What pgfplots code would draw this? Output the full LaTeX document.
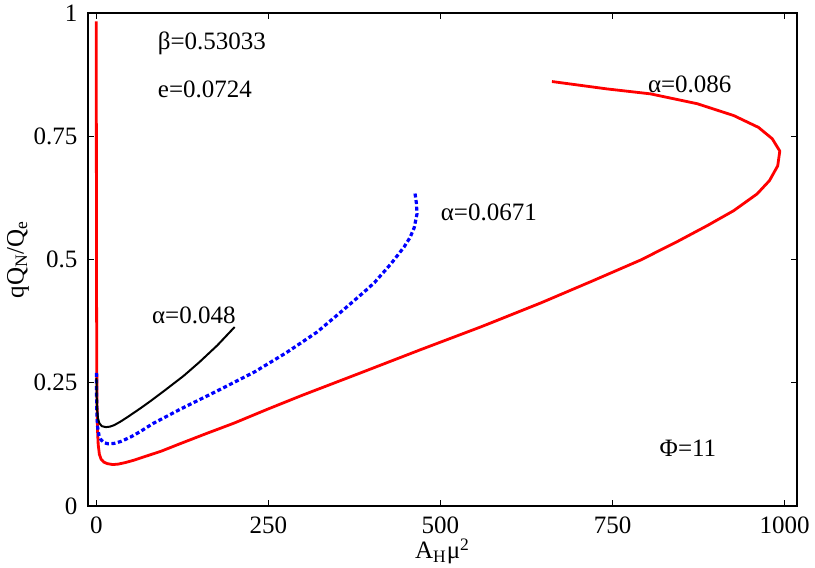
\documentclass[border=0pt]{standalone}
\usepackage{fontspec}
\setmainfont{Liberation Serif}
\usepackage{pgfplots}
\pgfplotsset{compat=1.18}
\begin{document}
\fontsize{12.5}{15}\selectfont
\begin{tikzpicture}
\useasboundingbox (-44pt,-31pt) rectangle (363.5pt,253pt);
\begin{axis}[
  at={(0pt,0pt)}, anchor=south west,
  scale only axis, width=354.5pt, height=246.5pt,
  xmin=-12, xmax=1018, ymin=0, ymax=1,
  clip=false,
  font=\fontsize{12.5}{15}\selectfont,
  /pgf/number format/assume math mode=true,
  xtick={0,250,500,750,1000}, xticklabels={0,250,500,750,1000},
  ytick={0,0.25,0.5,0.75,1}, yticklabels={0,0.25,0.5,0.75,1},
  tick pos=both, tick align=inside,
  major tick length=2.8pt,
  axis line style={line width=0.8pt},
  every tick/.style={black, line width=0.6pt},
  xticklabel style={yshift=-1pt},
  yticklabel style={xshift=-1pt},
]
\addplot[red, line width=1.4pt] coordinates {
(0.0,0.983) (0.15,0.75) (0.3,0.55) (0.5,0.40) (0.8,0.28) (1.2,0.20) (1.8,0.155)
(2.8,0.125) (4.5,0.105) (7,0.095) (11,0.089) (16,0.086) (24,0.084) (32,0.085)
(42,0.088) (55,0.093) (70,0.100) (94,0.111) (123,0.127) (160,0.147) (200,0.168)
(250,0.197) (300,0.225) (384,0.27) (471,0.317) (560,0.364) (646,0.412) (720,0.456)
(791,0.499) (845,0.537) (888,0.569) (926,0.599) (960,0.633) (978,0.66) (990,0.69)
(993,0.72) (982,0.745) (962,0.768) (926,0.792) (873,0.816) (805,0.836) (742,0.846)
(662,0.861)
};
\addplot[blue, line width=1.6pt, dash pattern=on 2pt off 1.3pt] coordinates {
(0.2,0.27) (0.5,0.22) (1,0.185) (2,0.16) (4,0.143) (7,0.134) (12,0.128) (18,0.126)
(26,0.127) (36,0.131) (50,0.14) (64,0.151) (82,0.167) (123,0.197) (178,0.235)
(230,0.272) (275,0.31) (320,0.352) (355,0.393) (389,0.434) (404,0.453) (428,0.491)
(447,0.525) (456,0.545) (462,0.565) (466,0.593) (465,0.615) (463,0.635)
};
\addplot[black, line width=1pt] coordinates {
(0.3,0.26) (0.7,0.22) (1.3,0.195) (2.5,0.178) (4.5,0.168) (8,0.162) (14,0.16)
(20,0.161) (26,0.164) (35,0.171) (45,0.18) (64,0.198) (79,0.213) (100,0.235)
(127,0.264) (150,0.292) (176,0.326) (201,0.363)
};
\node[anchor=west, inner sep=0pt] at (axis cs:89,0.938) {β=0.53033};
\node[anchor=west, inner sep=0pt] at (axis cs:89,0.845) {e=0.0724};
\node[anchor=west, inner sep=0pt] at (axis cs:801,0.855) {α=0.086};
\node[anchor=west, inner sep=0pt] at (axis cs:500,0.595) {α=0.0671};
\node[anchor=west, inner sep=0pt] at (axis cs:80.6,0.387) {α=0.048};
\node[anchor=west, inner sep=0pt] at (axis cs:818,0.117) {Φ=11};
\node[anchor=center, inner sep=0pt] at (axis description cs:0.5,-0.092) {A\textsubscript{H}μ\textsuperscript{2}};
\node[anchor=center, inner sep=0pt, rotate=90] at (axis description cs:-0.0987,0.5) {qQ\textsubscript{N}/Q\textsubscript{e}};
\end{axis}
\end{tikzpicture}
\end{document}
